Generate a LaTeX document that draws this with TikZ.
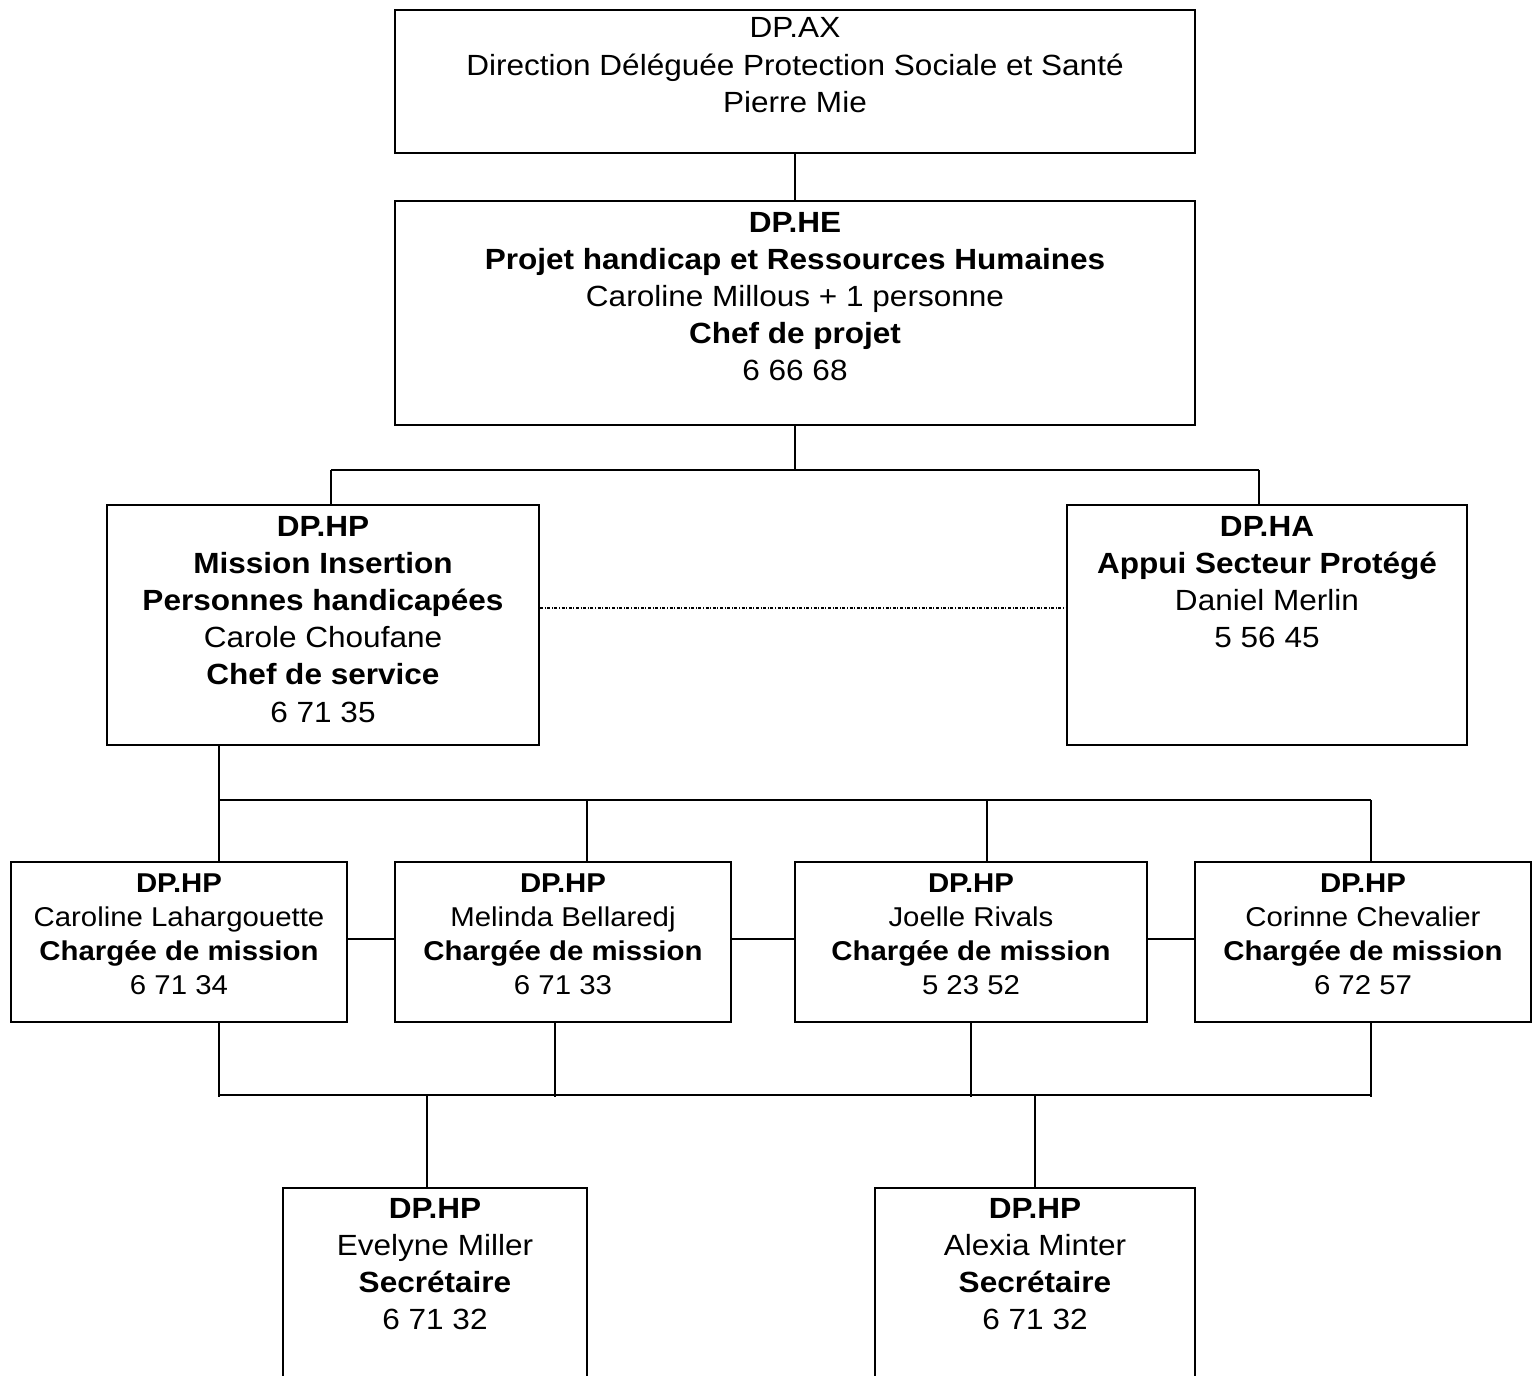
\documentclass[tikz,border=0pt]{standalone}
\usepackage{fontspec}
\setmainfont[FakeStretch=1.08]{Liberation Sans}
\newcommand\boxtext[4]{\parbox[t][#2][t]{#1}{\centering\rule{0pt}{#3}#4}}
\newcommand\bigf{\fontsize{14.6}{18.6}\selectfont}
\newcommand\smallf{\fontsize{13.6}{17}\selectfont}
\tikzset{
  orgbox/.style={draw, line width=1pt, inner sep=0pt, rectangle},
  conn/.style={line width=1pt},
  thickconn/.style={line width=1.4pt},
  dotconn/.style={line width=0.7pt, dash pattern=on 1.5pt off 0.8pt on 0.5pt off 0.8pt}
}
\begin{document}
\begin{tikzpicture}[x=0.5pt,y=-0.5pt]
\useasboundingbox (0,0) rectangle (1533,1376);
\node[orgbox] (ax) at (795,81.5) {\boxtext{400pt}{71.5pt}{14pt}{\bigf DP.AX\\Direction Déléguée Protection Sociale et Santé\\Pierre Mie}};
\node[orgbox] (he) at (795,313) {\boxtext{400pt}{112pt}{15.5pt}{\bigf\textbf{DP.HE}\\\textbf{Projet handicap et Ressources Humaines}\\Caroline Millous + 1 personne\\\textbf{Chef de projet}\\6 66 68}};
\node[orgbox] (hp) at (323,625) {\boxtext{216pt}{120pt}{15.5pt}{\bigf\textbf{DP.HP}\\\textbf{Mission Insertion}\\\textbf{Personnes handicapées}\\Carole Choufane\\\textbf{Chef de service}\\6 71 35}};
\node[orgbox] (ha) at (1267,625) {\boxtext{200pt}{120pt}{15.5pt}{\bigf\textbf{DP.HA}\\\textbf{Appui Secteur Protégé}\\Daniel Merlin\\5 56 45}};
\node[orgbox] (r1) at (179,942) {\boxtext{168pt}{80pt}{15pt}{\smallf\textbf{DP.HP}\\Caroline Lahargouette\\\textbf{Chargée de mission}\\6 71 34}};
\node[orgbox] (r2) at (563,942) {\boxtext{168pt}{80pt}{15pt}{\smallf\textbf{DP.HP}\\Melinda Bellaredj\\\textbf{Chargée de mission}\\6 71 33}};
\node[orgbox] (r3) at (971,942) {\boxtext{176pt}{80pt}{15pt}{\smallf\textbf{DP.HP}\\Joelle Rivals\\\textbf{Chargée de mission}\\5 23 52}};
\node[orgbox] (r4) at (1363,942) {\boxtext{168pt}{80pt}{15pt}{\smallf\textbf{DP.HP}\\Corinne Chevalier\\\textbf{Chargée de mission}\\6 72 57}};
\node[orgbox] (s1) at (435,1294) {\boxtext{152pt}{106pt}{15pt}{\bigf\textbf{DP.HP}\\Evelyne Miller\\\textbf{Secrétaire}\\6 71 32}};
\node[orgbox] (s2) at (1035,1294) {\boxtext{160pt}{106pt}{15pt}{\bigf\textbf{DP.HP}\\Alexia Minter\\\textbf{Secrétaire}\\6 71 32}};
% reference x positions
\coordinate (x219) at (219,0);
\coordinate (x331) at (331,0);
\coordinate (x427) at (427,0);
\coordinate (x555) at (555,0);
\coordinate (x587) at (587,0);
\coordinate (x971) at (971,0);
\coordinate (x987) at (987,0);
\coordinate (x1259) at (1259,0);
\coordinate (x1371) at (1371,0);
\coordinate (y470) at (0,470);
\coordinate (y800) at (0,800);
\coordinate (y1095) at (0,1095);
% top
\draw[conn] (ax.south) -- (he.north);
\draw[conn] (he.south) -- (he.south |- y470);
\draw[conn] (x331 |- y470) -- (x1259 |- y470);
\draw[conn] (x331 |- y470) -- (hp.north -| x331);
\draw[conn] (x1259 |- y470) -- (ha.north -| x1259);
\draw[dotconn] ([yshift=8.5pt]hp.east) -- ([yshift=8.5pt]ha.west);
% middle
\draw[conn] (hp.south -| x219) -- (x219 |- y800);
\draw[conn] (x219 |- y800) -- (x1371 |- y800);
\draw[conn] (x219 |- y800) -- (r1.north -| x219);
\draw[conn] (x587 |- y800) -- (r2.north -| x587);
\draw[conn] (x987 |- y800) -- (r3.north -| x987);
\draw[conn] (x1371 |- y800) -- (r4.north -| x1371);
\draw[conn] ([yshift=1.5pt]r1.east) -- ([yshift=1.5pt]r2.west);
\draw[conn] ([yshift=1.5pt]r2.east) -- ([yshift=1.5pt]r3.west);
\draw[conn] ([yshift=1.5pt]r3.east) -- ([yshift=1.5pt]r4.west);
% lower
\draw[conn] (r1.south -| x219) -- ([yshift=-1pt]x219 |- y1095);
\draw[conn] (r2.south -| x555) -- ([yshift=-1pt]x555 |- y1095);
\draw[conn] (r3.south -| x971) -- ([yshift=-1pt]x971 |- y1095);
\draw[conn] (r4.south -| x1371) -- ([yshift=-1pt]x1371 |- y1095);
\draw[thickconn] (x219 |- y1095) -- (x1371 |- y1095);
\draw[conn] (x427 |- y1095) -- (s1.north -| x427);
\draw[conn] (s2.north |- y1095) -- (s2.north);
\end{tikzpicture}
\end{document}
